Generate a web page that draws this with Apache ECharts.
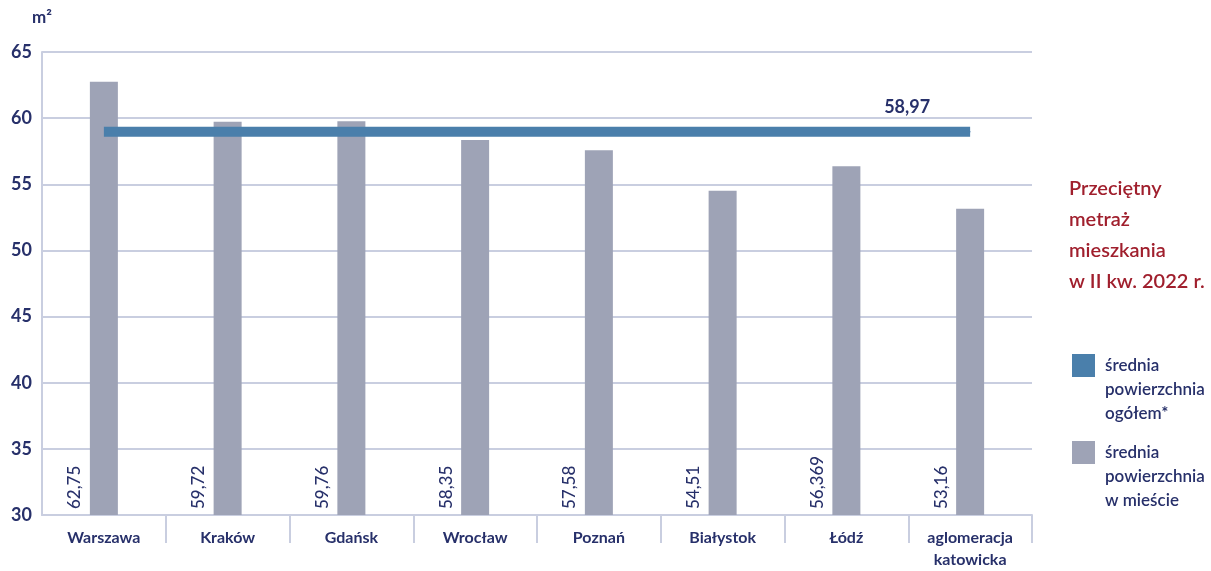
<!DOCTYPE html>
<html>
<head>
<meta charset="utf-8">
<script src="https://cdn.jsdelivr.net/npm/echarts@6/dist/echarts.min.js"></script>
<style>
  html, body { margin: 0; padding: 0; background: #fff; }
  #chart { width: 1211px; height: 571px; }
</style>
</head>
<body>
<div id="chart"></div>
<script>
// dane z wykresu
var cities = ['Warszawa', 'Kraków', 'Gdańsk', 'Wrocław', 'Poznań', 'Białystok', 'Łódź', 'aglomeracja\nkatowicka'];
var cityArea = [62.75, 59.72, 59.76, 58.35, 57.58, 54.51, 56.369, 53.16];
var cityLabels = ['62,75', '59,72', '59,76', '58,35', '57,58', '54,51', '56,369', '53,16'];
var overallArea = 58.97;
var overallLabel = '58,97';
var yTicks = [30, 35, 40, 45, 50, 55, 60, 65];

var navy = '#27306a';
var gridColor = '#c9cee0';
var font = 'Lato';

var chart = echarts.init(document.getElementById('chart'));

// linia średniej - etykieta tylko na ostatnim punkcie
var lineData = cities.map(function (c, i) {
  if (i === cities.length - 1) {
    return {
      value: overallArea,
      symbol: 'circle',
      symbolSize: 1,
      label: {
        show: true,
        position: 'top',
        offset: [-63, -10],
        formatter: overallLabel,
        color: navy,
        fontFamily: font,
        fontWeight: 'bold',
        fontSize: 18
      }
    };
  }
  return overallArea;
});

var option = {
  animation: false,
  title: {
    text: 'Przeciętny\nmetraż\nmieszkania\nw II kw. 2022 r.',
    left: 1064,
    top: 168,
    textStyle: {
      color: '#a01f2d',
      fontFamily: font,
      fontWeight: 600,
      fontSize: 20,
      lineHeight: 31
    }
  },
  legend: {
    orient: 'vertical',
    left: 1067,
    top: 349,
    itemWidth: 28,
    itemHeight: 72,
    itemGap: 15,
    itemStyle: { borderWidth: 0 },
    data: [
      { name: 'średnia\npowierzchnia\nogółem*', icon: 'path://M0 0H23V23H0Z M0 72L28 72' },
      { name: 'średnia\npowierzchnia\nw mieście', icon: 'path://M0 0H23V23H0Z M0 72L28 72' }
    ],
    textStyle: {
      color: navy,
      fontFamily: font,
      fontSize: 17,
      lineHeight: 24,
      fontWeight: 600
    }
  },
  grid: {
    left: 42,
    right: 179,
    top: 52,
    bottom: 54
  },
  xAxis: {
    type: 'category',
    data: cities,
    axisLine: { lineStyle: { color: gridColor, width: 2 } },
    axisTick: {
      show: true,
      length: 28,
      lineStyle: { color: gridColor, width: 2 },
      interval: function (index) { return index > 0; }
    },
    axisLabel: {
      color: navy,
      fontFamily: font,
      fontWeight: 'bold',
      fontSize: 16,
      lineHeight: 22,
      margin: 12,
      interval: 0
    }
  },
  yAxis: {
    type: 'value',
    min: yTicks[0],
    max: yTicks[yTicks.length - 1],
    interval: 5,
    name: 'm²',
    nameLocation: 'end',
    nameGap: 26,
    nameTextStyle: {
      color: navy,
      fontFamily: font,
      fontWeight: 'bold',
      fontSize: 17,
      align: 'center'
    },
    axisLine: { show: true, lineStyle: { color: gridColor, width: 2 } },
    axisTick: { show: false },
    splitLine: { lineStyle: { color: gridColor, width: 2 } },
    axisLabel: {
      color: navy,
      fontFamily: font,
      fontWeight: 'bold',
      fontSize: 18,
      margin: 10
    }
  },
  series: [
    {
      name: 'średnia\npowierzchnia\nw mieście',
      type: 'bar',
      data: cityArea,
      barWidth: 28,
      itemStyle: { color: '#9ea3b6' },
      label: {
        show: true,
        position: 'insideBottom',
        rotate: 90,
        align: 'left',
        verticalAlign: 'middle',
        distance: 6,
        offset: [0, -29],
        formatter: function (p) { return cityLabels[p.dataIndex]; },
        color: navy,
        fontFamily: font,
        fontWeight: 500,
        fontSize: 17
      }
    },
    {
      name: 'średnia\npowierzchnia\nogółem*',
      type: 'line',
      data: lineData,
      symbol: 'none',
      z: 5,
      color: '#4a7fab',
      lineStyle: { color: '#4a7fab', width: 10, cap: 'butt' },
      itemStyle: { color: '#4a7fab' }
    }
  ]
};

chart.setOption(option);
</script>
</body>
</html>
